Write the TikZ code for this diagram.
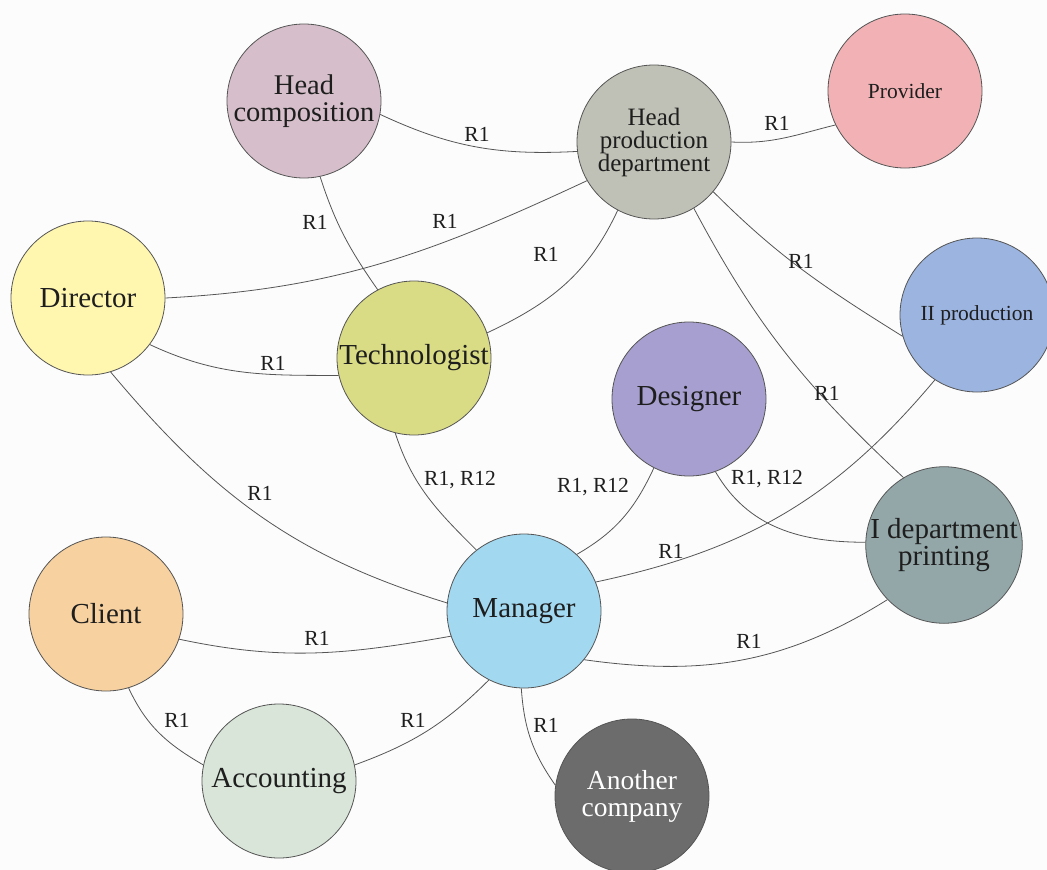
\documentclass[tikz,border=0pt]{standalone}
\usepackage{fontspec}
\setmainfont{Liberation Serif}
\definecolor{bg}{HTML}{FCFCFC}
\definecolor{linegray}{HTML}{555555}
\definecolor{ink}{HTML}{1E1E1E}
\definecolor{chc}{HTML}{D6BFCA}
\definecolor{chp}{HTML}{C0C1B6}
\definecolor{cpv}{HTML}{F2B2B5}
\definecolor{cdr}{HTML}{FFF7B0}
\definecolor{ctc}{HTML}{D9DC84}
\definecolor{cii}{HTML}{9BB4E0}
\definecolor{cds}{HTML}{A79FCF}
\definecolor{cip}{HTML}{93A7A9}
\definecolor{ccl}{HTML}{F7D19F}
\definecolor{cmg}{HTML}{A2D9F1}
\definecolor{cac}{HTML}{D8E5D8}
\definecolor{cot}{HTML}{6C6C6C}
\begin{document}
\begin{tikzpicture}[x=1pt,y=1pt,
  unit/.style={circle, draw=linegray, line width=0.8pt, minimum size=154pt,
    inner sep=0pt, align=center, text=ink, font=\fontsize{29}{27}\selectfont},
  link/.style={draw=linegray, line width=0.8pt},
  lbl/.style={font=\fontsize{21.5}{24}\selectfont, text=ink, inner sep=0pt}
]
\fill[bg] (0,0) rectangle (1047,-870);
\useasboundingbox (0,0) rectangle (1047,-870);

% units of the organisation
\node[unit, fill=chc, font=\fontsize{28.5}{26.5}\selectfont] (hc) at (304,-101) {Head\\composition};
\node[unit, fill=chp, font=\fontsize{25}{23}\selectfont] (hp) at (654,-142) {Head\\production\\department};
\node[unit, fill=cpv, font=\fontsize{21.5}{24}\selectfont] (pv) at (905,-91) {Provider};
\node[unit, fill=cdr] (dr) at (88,-298) {Director};
\node[unit, fill=ctc] (tc) at (414,-358) {Technologist};
\node[unit, fill=cii, font=\fontsize{21.5}{24}\selectfont] (ii) at (977,-315) {II production};
\node[unit, fill=cds] (ds) at (689,-399) {Designer};
\node[unit, fill=cip, font=\fontsize{29}{25}\selectfont] (ip) at (944,-545) {I department\\printing};
\node[unit, fill=ccl] (cl) at (106,-614) {Client};
\node[unit, fill=cmg] (mg) at (524,-611) {Manager};
\node[unit, fill=cac] (ac) at (279,-781) {Accounting};
\node[unit, fill=cot, text=white, font=\fontsize{27.5}{27}\selectfont] (ot) at (632,-796) {Another\\company};

% relations
\draw[link] (hc.-10) to[out=-25,in=183] (hp.187);
\draw[link] (hp.0) to[out=-3,in=194] (pv.206);
\draw[link] (hc.-78) to[out=-72,in=125] (tc.118);
\draw[link] (dr.0) to[out=3,in=205] (hp.210);
\draw[link] (tc.19) to[out=25,in=245] (hp.242);
\draw[link] (hp.-40) to[out=-45,in=148] (ii.196);
\draw[link] (hp.-59) to[out=-62,in=137] (ip.121);
\draw[link] (dr.-37) to[out=-25,in=180] (tc.193);
\draw[link] (dr.-73) to[out=-50,in=163] (mg.174);
\draw[link] (tc.-104) to[out=-72,in=135] (mg.128);
\draw[link] (ds.243) to[out=245,in=30] (mg.47);
\draw[link] (ds.-70) to[out=-60,in=180] (ip.178);
\draw[link] (mg.22) to[out=12,in=230] (ii.237);
\draw[link] (mg.-39) to[out=-8,in=212] (ip.224);
\draw[link] (cl.-19) to[out=-12,in=190] (mg.199);
\draw[link] (cl.-73) to[out=-65,in=150] (ac.168);
\draw[link] (ac.12) to[out=20,in=225] (mg.243);
\draw[link] (mg.268) to[out=-86,in=125] (ot.172);

% relation labels
\node[lbl] (l1) at (477,-134) {R1};
\node[lbl] (l2) at (777,-123) {R1};
\node[lbl] (l3) at (315,-222) {R1};
\node[lbl] (l4) at (445,-221) {R1};
\node[lbl] (l5) at (546,-254) {R1};
\node[lbl] (l6) at (801,-261) {R1};
\node[lbl] (l7) at (827,-393) {R1};
\node[lbl] (l8) at (273,-363) {R1};
\node[lbl] (l9) at (260,-493) {R1};
\node[lbl] (l10) at (460,-480) {R1, R12};
\node[lbl] (l11) at (593,-487) {R1, R12};
\node[lbl] (l12) at (767,-479) {R1, R12};
\node[lbl] (l13) at (671,-551) {R1};
\node[lbl] (l14) at (749,-641) {R1};
\node[lbl] (l15) at (317,-638) {R1};
\node[lbl] (l16) at (177,-720) {R1};
\node[lbl] (l17) at (413,-720) {R1};
\node[lbl] (l18) at (546,-725) {R1};
\end{tikzpicture}
\end{document}
